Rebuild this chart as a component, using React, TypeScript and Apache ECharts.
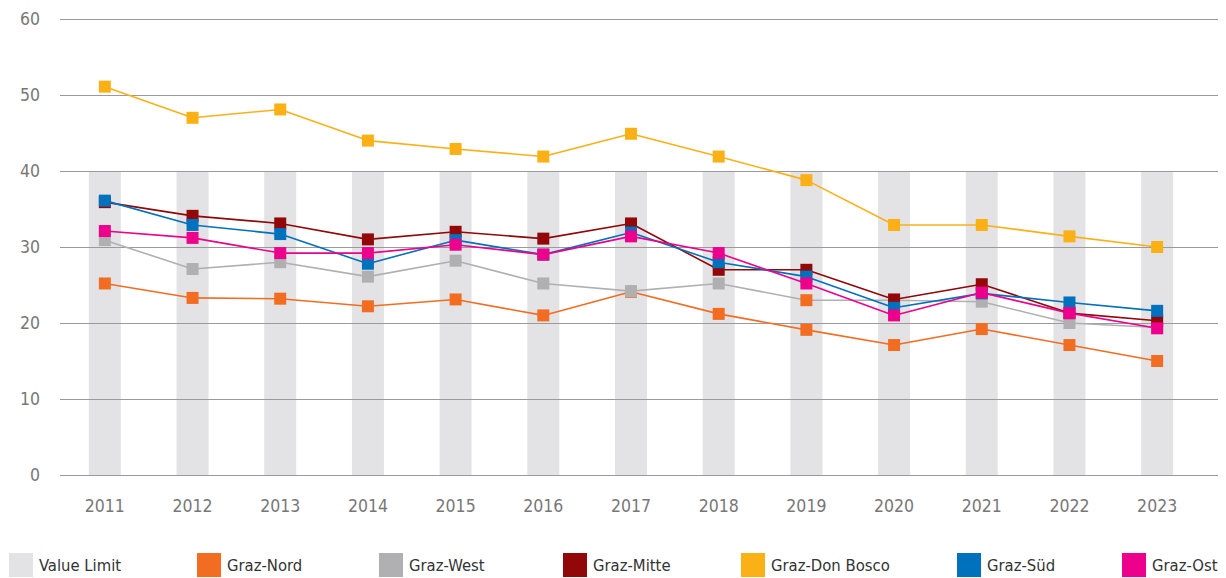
import React, { useEffect, useRef } from "react";
import * as echarts from "echarts";

const years = ["2011", "2012", "2013", "2014", "2015", "2016", "2017", "2018", "2019", "2020", "2021", "2022", "2023"];
const valueLimit = [40, 40, 40, 40, 40, 40, 40, 40, 40, 40, 40, 40, 40];
const grazNord = [25.2, 23.3, 23.2, 22.2, 23.1, 21, 24.1, 21.2, 19.1, 17.1, 19.2, 17.1, 15];
const grazWest = [30.9, 27.1, 28, 26.1, 28.2, 25.2, 24.2, 25.2, 23, 23, 22.8, 20, 19.4];
const grazMitte = [35.9, 34.1, 33.1, 31, 32, 31.1, 33.1, 27, 27, 23.1, 25.1, 21.3, 20.3];
const grazDonBosco = [51.1, 47, 48.1, 44, 42.9, 41.9, 44.9, 41.9, 38.8, 32.9, 32.9, 31.4, 30];
const grazSued = [36.1, 32.9, 31.7, 27.8, 30.9, 29, 31.9, 28, 26.1, 22, 23.9, 22.7, 21.6];
const grazOst = [32.1, 31.2, 29.2, 29.2, 30.3, 29, 31.4, 29.2, 25.2, 21, 24, 21.3, 19.3];
const yTicks = [0, 10, 20, 30, 40, 50, 60];

const FONT = "'DejaVu Sans Condensed', 'Liberation Sans Narrow', 'Liberation Sans', sans-serif";

export default function App() {
  const ref = useRef<HTMLDivElement>(null);
  useEffect(() => {
    if (!ref.current) return;
    const chart = echarts.init(ref.current, undefined, { renderer: "svg" });
    const lineSeries = [
      { name: "Graz-Nord", data: grazNord, color: "#f26d21" },
      { name: "Graz-West", data: grazWest, color: "#b0b0b3" },
      { name: "Graz-Mitte", data: grazMitte, color: "#920708" },
      { name: "Graz-Don Bosco", data: grazDonBosco, color: "#fbb016" },
      { name: "Graz-Süd", data: grazSued, color: "#0071bc" },
      { name: "Graz-Ost", data: grazOst, color: "#ec008c" },
    ];
    const legendNames = ["Value Limit", ...lineSeries.map((s) => s.name)];
    const legendLefts = [9, 197, 379, 563, 741, 957, 1122];
    const legends = legendNames.map((n, i) => ({
      data: [{ name: n, icon: "rect" }],
      left: legendLefts[i],
      top: 553,
      itemWidth: 24,
      itemHeight: 24,
      itemGap: 0,
      padding: 0,
      selectedMode: false,
      textStyle: { fontFamily: FONT, fontSize: 16.5, color: "#333333", padding: [0, 0, 0, 1] },
    }));
    const option: any = {
      animation: false,
      textStyle: { fontFamily: FONT },
      legend: legends,
      grid: [
        { left: 60, right: 8, top: 19, bottom: 103 },
        { left: 61, width: 1140, top: 19, bottom: 103 },
      ],
      xAxis: [
        { type: "value", gridIndex: 0, show: false, min: 0, max: 1 },
        {
          type: "category",
          gridIndex: 1,
          data: years,
          boundaryGap: true,
          axisLine: { show: false },
          axisTick: { show: false },
          axisLabel: { fontFamily: FONT, fontSize: 17.5, color: "#777777", margin: 22 },
        },
      ],
      yAxis: [
        {
          type: "value",
          gridIndex: 0,
          min: yTicks[0],
          max: yTicks[yTicks.length - 1],
          interval: 10,
          z: 3,
          axisLine: { show: false },
          axisTick: { show: false },
          axisLabel: { fontFamily: FONT, fontSize: 17.5, color: "#777777", margin: 20 },
          splitLine: { lineStyle: { color: "#9a9a9a", width: 1 } },
        },
        {
          type: "value",
          gridIndex: 1,
          min: yTicks[0],
          max: yTicks[yTicks.length - 1],
          interval: 10,
          show: false,
          splitLine: { show: false },
        },
      ],
      series: [
        {
          name: "Value Limit",
          type: "bar",
          xAxisIndex: 1,
          yAxisIndex: 1,
          data: valueLimit,
          barWidth: 32,
          z: 2,
          itemStyle: { color: "#e3e3e5" },
        },
        ...lineSeries.map((s) => ({
          name: s.name,
          type: "line",
          xAxisIndex: 1,
          yAxisIndex: 1,
          z: 4,
          data: s.data.map((v, i) =>
            s.name === "Graz-West" && i === 8
              ? { value: v, itemStyle: { color: "#f26d21" } }
              : v
          ),
          color: s.color,
          symbol: "rect",
          symbolSize: 12,
          lineStyle: { color: s.color, width: 1.6 },
          itemStyle: { color: s.color },
        })),
      ],
    };
    chart.setOption(option);
    return () => chart.dispose();
  }, []);
  return (
    <div
      ref={ref}
      style={{ position: "fixed", left: 0, top: 0, width: 1226, height: 578, background: "#fff" }}
    />
  );
}
